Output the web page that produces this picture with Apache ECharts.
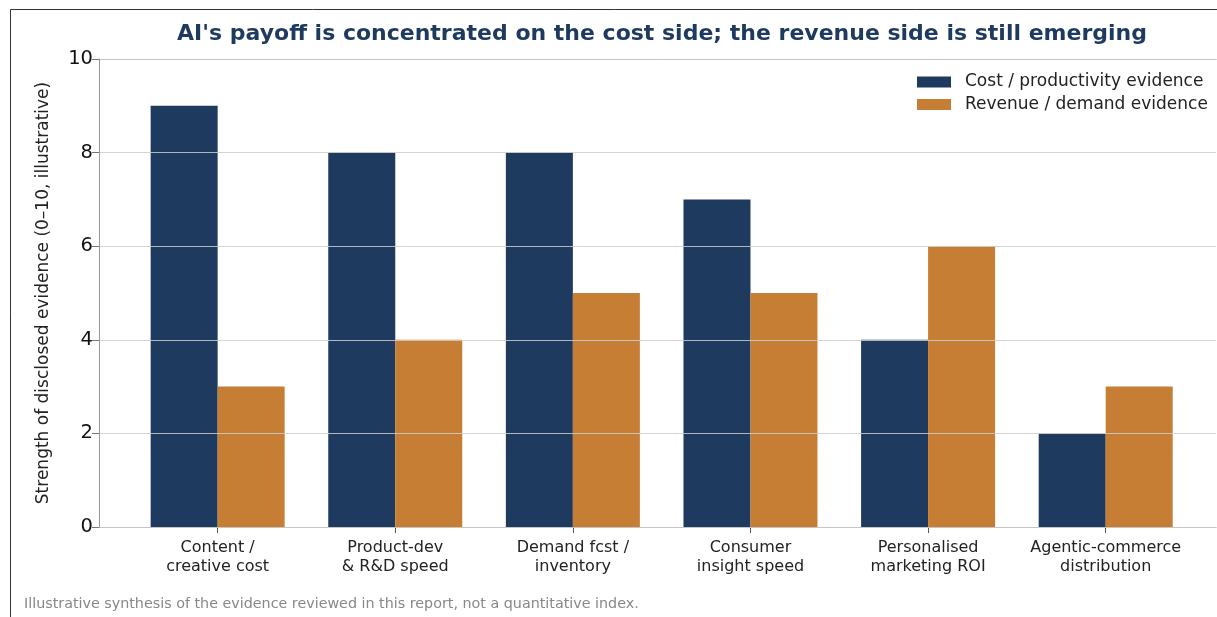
<!DOCTYPE html>
<html>
<head>
<meta charset="utf-8">
<script src="https://cdn.jsdelivr.net/npm/echarts@6/dist/echarts.min.js"></script>
<style>html,body{margin:0;padding:0;background:#fff}#c{width:1217px;height:617px}</style>
</head>
<body>
<div id="c"></div>
<script>
const categories = ["Content /\ncreative cost", "Product-dev\n& R&D speed", "Demand fcst /\ninventory", "Consumer\ninsight speed", "Personalised\nmarketing ROI", "Agentic-commerce\ndistribution"];
const costValues = [9, 8, 8, 7, 4, 2];
const revenueValues = [3, 4, 5, 5, 6, 3];
const yTicks = [0, 2, 4, 6, 8, 10];
const seriesNames = ["Cost / productivity evidence", "Revenue / demand evidence"];
const titleText = "AI's payoff is concentrated on the cost side; the revenue side is still emerging";
const yAxisTitle = "Strength of disclosed evidence (0–10, illustrative)";
const footnote = "Illustrative synthesis of the evidence reviewed in this report, not a quantitative index.";

const idx = categories.map((_, i) => i);
const FONT = "'DejaVu Sans', sans-serif";
const XMIN = -0.668, XMAX = 5.621;
const chart = echarts.init(document.getElementById('c'), null, {renderer: 'canvas'});
chart.setOption({
  animation: false,
  backgroundColor: '#fff',
  textStyle: {fontFamily: FONT},
  title: {
    text: titleText, left: 662, top: 23, textAlign: 'center', padding: 0,
    textStyle: {fontFamily: FONT, fontSize: 22, fontWeight: 'bold', color: '#1f3a5f'}
  },
  legend: {
    orient: 'vertical', left: 917, top: 72, itemWidth: 34, itemHeight: 11, itemGap: 2.5, padding: 0,
    icon: 'rect',
    textStyle: {fontFamily: FONT, fontSize: 17, color: '#222', lineHeight: 20, padding: [0, 0, 0, 9]},
    data: seriesNames
  },
  grid: {left: 99, top: 59, width: 1117, height: 468, show: false, containLabel: false},
  xAxis: [{
    type: 'value', min: XMIN, max: XMAX,
    axisLine: {show: true, onZero: false, lineStyle: {color: '#999', width: 1}},
    axisTick: {show: true, length: 6, lineStyle: {color: '#555'}, customValues: idx},
    axisLabel: {customValues: idx, formatter: v => categories[Math.round(v)], fontFamily: FONT, fontSize: 16, color: '#222', lineHeight: 18.5, margin: 12},
    splitLine: {show: false}
  }, {
    type: 'value', min: XMIN, max: XMAX, position: 'top',
    axisLine: {show: true, onZero: false, lineStyle: {color: '#999', width: 1}},
    axisTick: {show: false}, axisLabel: {show: false}, splitLine: {show: false}
  }],
  yAxis: {
    type: 'value', min: 0, max: 10, interval: 2, z: 5,
    name: yAxisTitle, nameLocation: 'middle', nameGap: 47,
    nameTextStyle: {fontFamily: FONT, fontSize: 17, color: '#222'},
    axisLine: {show: true, onZero: false, lineStyle: {color: '#999', width: 1}},
    axisTick: {show: true, length: 7, lineStyle: {color: '#777'}},
    axisLabel: {fontFamily: FONT, fontSize: 19.5, color: '#111', margin: 6,
      formatter: v => yTicks.includes(v) ? String(v) : ''},
    splitLine: {show: true, lineStyle: {color: 'rgba(205,205,205,0.85)', width: 1.2}}
  },
  series: [
    {name: seriesNames[0], type: 'bar', z: 2, barWidth: 67, barGap: '0%',
      itemStyle: {color: '#1f3a5f'},
      data: idx.map(i => [i, costValues[i]])},
    {name: seriesNames[1], type: 'bar', z: 2, barWidth: 67, barGap: '0%',
      itemStyle: {color: '#c67d34'},
      data: idx.map(i => [i, revenueValues[i]])}
  ],
  graphic: [
    {type: 'rect', shape: {x: 10.5, y: 9.5, width: 1400, height: 800}, style: {fill: null, stroke: '#333', lineWidth: 1}, silent: true},
    {type: 'text', left: 24, top: 597, style: {text: footnote, fontFamily: FONT, fontSize: 14.3, fill: '#888'}}
  ]
});
</script>
</body>
</html>
